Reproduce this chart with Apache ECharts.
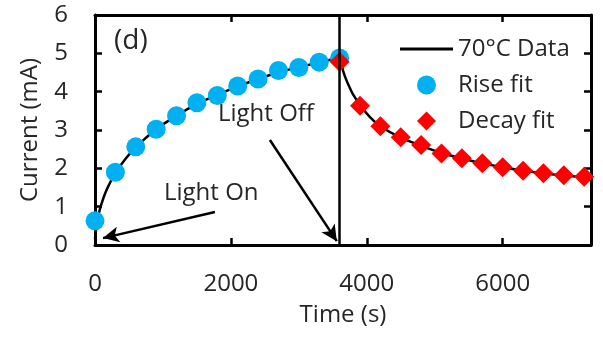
<!DOCTYPE html>
<html><head><meta charset="utf-8">
<script src="https://cdn.jsdelivr.net/npm/echarts@6/dist/echarts.min.js"></script>
<style>html,body{margin:0;padding:0;background:#fff}#c{width:603px;height:337px}</style>
</head><body><div id="c"></div>
<script>
// Measured curve (70°C Data)
const dataT = [0, 30, 60, 100, 150, 200, 300, 450, 600, 900, 1200, 1500, 1800, 2100, 2400, 2700, 3000, 3300, 3600,
  3650, 3700, 3750, 3800, 3900, 4050, 4200, 4500, 4800, 5100, 5400, 5700, 6000, 6300, 6600, 6900, 7200, 7300];
const dataI = [0.15, 0.6, 0.85, 1.1, 1.35, 1.55, 1.88, 2.25, 2.55, 3.02, 3.37, 3.68, 3.92, 4.14, 4.33, 4.5, 4.64, 4.76, 4.87,
  4.55, 4.3, 4.1, 3.92, 3.65, 3.33, 3.1, 2.8, 2.59, 2.4, 2.26, 2.13, 2.03, 1.94, 1.87, 1.81, 1.77, 1.76];
// Rise fit
const riseT = [0, 300, 600, 900, 1200, 1500, 1800, 2100, 2400, 2700, 3000, 3300, 3600];
const riseI = [0.63, 1.9, 2.56, 3.02, 3.37, 3.71, 3.9, 4.15, 4.33, 4.55, 4.63, 4.77, 4.88];
// Decay fit
const decayT = [3600, 3900, 4200, 4500, 4800, 5100, 5400, 5700, 6000, 6300, 6600, 6900, 7200];
const decayI = [4.78, 3.63, 3.1, 2.81, 2.61, 2.39, 2.26, 2.13, 2.03, 1.94, 1.87, 1.82, 1.78];
// Axis ticks
const xTicks = {min: 0, max: 7300, interval: 2000};
const yTicks = {min: 0, max: 6, interval: 1};
// Annotations
const lightOff = 3600;
const arrowOn = [[1765, 0.86], [118, 0.18]];
const arrowOff = [[2574, 2.74], [3559, 0.1]];

const FONT = '"Open Sans", sans-serif';
const TXT = '#262626';
const zip = (a, b) => a.map((v, i) => [v, b[i]]);

const chart = echarts.init(document.getElementById('c'));
const axisLineStyle = {color: '#000', width: 3};
const tickStyle = {show: true, inside: true, length: 7, lineStyle: {color: '#000', width: 2.5}};
chart.setOption({
  animation: false,
  grid: {left: 95, right: 12, top: 15, bottom: 92},
  xAxis: [{
    type: 'value', min: xTicks.min, max: xTicks.max, interval: xTicks.interval,
    name: 'Time (s)', nameLocation: 'middle', nameGap: 58,
    nameTextStyle: {fontFamily: FONT, fontSize: 24, color: TXT},
    axisLine: {show: true, onZero: false, lineStyle: axisLineStyle},
    axisTick: tickStyle,
    axisLabel: {fontFamily: FONT, fontSize: 24, color: TXT, margin: 27, showMaxLabel: false,
      formatter: v => String(v)},
    splitLine: {show: false}
  }, {
    type: 'value', position: 'top', min: xTicks.min, max: xTicks.max, interval: xTicks.interval,
    axisLine: {show: true, onZero: false, lineStyle: axisLineStyle},
    axisTick: tickStyle,
    axisLabel: {show: false}, splitLine: {show: false}
  }],
  yAxis: [{
    type: 'value', min: yTicks.min, max: yTicks.max, interval: yTicks.interval,
    name: 'Current (mA)', nameLocation: 'middle', nameGap: 53,
    nameTextStyle: {fontFamily: FONT, fontSize: 24, color: TXT},
    axisLine: {show: true, onZero: false, lineStyle: axisLineStyle},
    axisTick: tickStyle,
    axisLabel: {fontFamily: FONT, fontSize: 24, color: TXT, margin: 27},
    splitLine: {show: false}
  }, {
    type: 'value', position: 'right', min: yTicks.min, max: yTicks.max, interval: yTicks.interval,
    axisLine: {show: true, onZero: false, lineStyle: axisLineStyle},
    axisTick: tickStyle,
    axisLabel: {show: false}, splitLine: {show: false}
  }],
  legend: {
    left: 395, top: 32, orient: 'vertical', itemWidth: 53, itemHeight: 19, itemGap: 12,
    textStyle: {fontFamily: FONT, fontSize: 24, color: TXT},
    data: [
      {name: '70°C Data', icon: 'path://M0,0 L53,0 L53,3 L0,3 Z'},
      {name: 'Rise fit', icon: 'circle'},
      {name: 'Decay fit', icon: 'path://M10,0 L20,10 L10,20 L0,10 Z'}
    ]
  },
  series: [{
    name: '70°C Data', type: 'line', smooth: 0.3, symbol: 'none',
    data: zip(dataT, dataI),
    lineStyle: {color: '#000', width: 2.5}, itemStyle: {color: '#000'}, z: 2,
    markLine: {
      silent: true, animation: false,
      label: {show: false},
      data: [
        [{coord: [lightOff, 0], symbol: 'none'}, {coord: [lightOff, 6], symbol: 'none'}],
        [{coord: arrowOn[0], symbol: 'none'}, {coord: arrowOn[1], symbol: 'arrow', symbolSize: [12, 16]}],
        [{coord: arrowOff[0], symbol: 'none'}, {coord: arrowOff[1], symbol: 'arrow', symbolSize: [12, 16]}]
      ],
      lineStyle: {color: '#000', width: 2.5, type: 'solid'}
    }
  }, {
    name: 'Rise fit', type: 'scatter', symbol: 'circle', symbolSize: 19,
    data: zip(riseT, riseI), itemStyle: {color: '#00B0F0', opacity: 1}, z: 3
  }, {
    name: 'Decay fit', type: 'scatter', symbol: 'diamond', symbolSize: 20,
    data: zip(decayT, decayI), itemStyle: {color: '#FF0000', opacity: 1}, z: 4
  }],
  graphic: [
    {type: 'text', left: 114, top: 27, style: {text: '(d)', font: '28px "Open Sans", sans-serif', fill: TXT}},
    {type: 'text', left: 218, top: 102, style: {text: 'Light Off', font: '24px "Open Sans", sans-serif', fill: TXT}},
    {type: 'text', left: 164, top: 181, style: {text: 'Light On', font: '24px "Open Sans", sans-serif', fill: TXT}}
  ]
});
</script></body></html>
